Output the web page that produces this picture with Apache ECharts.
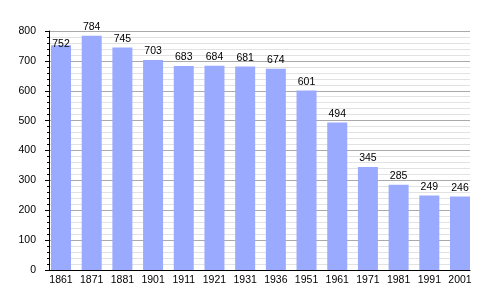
<!DOCTYPE html>
<html>
<head>
<meta charset="utf-8">
<script src="https://cdn.jsdelivr.net/npm/echarts@6/dist/echarts.min.js"></script>
<style>html,body{margin:0;padding:0;background:#fff}#c{width:500px;height:300px}</style>
</head>
<body>
<div id="c"></div>
<script>
const years = ['1861','1871','1881','1901','1911','1921','1931','1936','1951','1961','1971','1981','1991','2001'];
const population = [752,784,745,703,683,684,681,674,601,494,345,285,249,246];
const yMin = 0, yMax = 800, yStep = 100;

const chart = echarts.init(document.getElementById('c'), null, {renderer:'canvas'});
const font = 'Liberation Sans, Arial, sans-serif';
chart.setOption({
  animation: false,
  backgroundColor: '#fff',
  grid: [
    {left: 49, right: 30, top: 31, bottom: 30},
    {left: 61, right: 40, top: 31, bottom: 30}
  ],
  xAxis: [
    {gridIndex: 0, type: 'category', data: years, boundaryGap: true,
     axisLine: {show: true, lineStyle: {color: '#000', width: 1}},
     axisTick: {show: false}, axisLabel: {show: false}, splitLine: {show: false}},
    {gridIndex: 1, type: 'category', data: years, boundaryGap: false,
     axisLine: {show: false}, axisTick: {show: false},
     axisLabel: {show: true, interval: 0, margin: 5, color: '#000', fontSize: 10.5, fontFamily: font}}
  ],
  yAxis: [
    {gridIndex: 0, type: 'value', min: yMin, max: yMax, interval: yStep,
     axisLine: {show: true, lineStyle: {color: '#000', width: 1}},
     axisTick: {show: true, inside: false, length: 4, lineStyle: {color: '#000'}},
     minorTick: {show: true, splitNumber: 5, length: 2, lineStyle: {color: '#000'}},
     axisLabel: {margin: 13, color: '#000', fontSize: 10.5, fontFamily: font},
     splitLine: {show: true, lineStyle: {color: '#aaaaaa', width: 1}},
     minorSplitLine: {show: true, lineStyle: {color: '#e2e2e2', width: 1}}},
    {gridIndex: 1, type: 'value', min: yMin, max: yMax, interval: yStep, show: false,
     splitLine: {show: false}}
  ],
  series: [{
    type: 'bar', xAxisIndex: 1, yAxisIndex: 1, clip: false,
    barWidth: 20,
    itemStyle: {color: '#99aaff'},
    label: {show: true, position: 'top', distance: 3, color: '#000', fontSize: 10.5, fontFamily: font},
    data: population.map((v, i) => i === 0 ? {value: v, label: {offset: [0, 7]}} : v)
  }]
});
</script>
</body>
</html>
